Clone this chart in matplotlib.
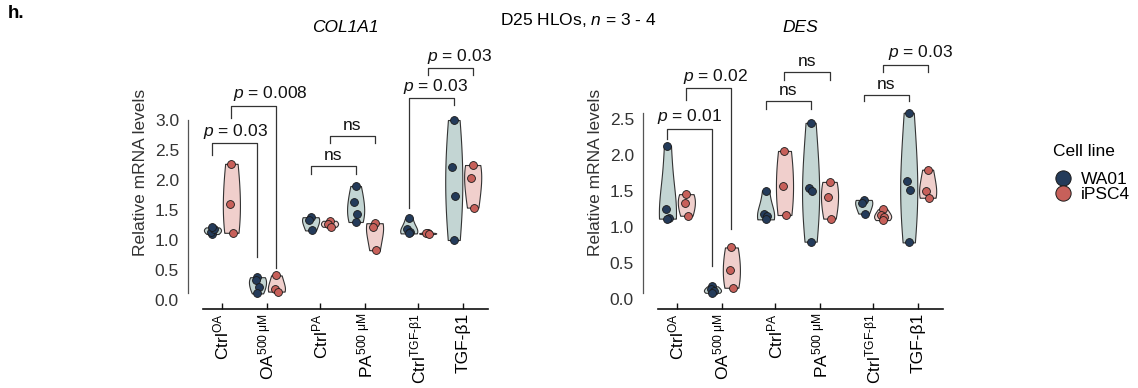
import numpy as np
import matplotlib
matplotlib.use("Agg")
import matplotlib.pyplot as plt
from matplotlib.lines import Line2D

plt.rcParams["font.family"] = ["Liberation Sans", "DejaVu Sans"]
plt.rcParams["mathtext.fontset"] = "custom"
plt.rcParams["mathtext.rm"] = "Liberation Sans"
plt.rcParams["mathtext.it"] = "Liberation Sans:italic"
plt.rcParams["mathtext.bf"] = "Liberation Sans:bold"

# groups along the x axis
groups = [r"Ctrl$^{\text{OA}}$", r"OA$^{\text{500 μM}}$", r"Ctrl$^{\text{PA}}$",
          r"PA$^{\text{500 μM}}$", r"Ctrl$^{\text{TGF-β1}}$", "TGF-β1"]
cell_lines = ["WA01", "iPSC4"]

# relative mRNA levels, one list per group
col1a1_wa01 = [[1.10, 1.14, 1.18, 1.21], [0.38, 0.34, 0.22, 0.11], [1.38, 1.33, 1.16],
               [1.90, 1.63, 1.43, 1.30], [1.36, 1.18, 1.13, 1.11], [3.00, 2.22, 1.74, 1.00]]
col1a1_ipsc4 = [[2.27, 1.60, 1.12], [0.41, 0.18, 0.14], [1.32, 1.27, 1.22],
                [1.28, 1.21, 0.83], [1.12, 1.11, 1.10], [2.25, 2.03, 1.54]]
des_wa01 = [[2.13, 1.26, 1.13, 1.12], [0.18, 0.14, 0.11, 0.09], [1.51, 1.18, 1.15, 1.11],
            [2.45, 1.55, 1.51, 0.80], [1.38, 1.34, 1.19], [2.59, 1.64, 1.52, 0.79]]
des_ipsc4 = [[1.46, 1.34, 1.16], [0.72, 0.41, 0.16], [2.06, 1.58, 1.17],
             [1.63, 1.42, 1.12], [1.25, 1.17, 1.14, 1.10], [1.80, 1.50, 1.41]]

# comparisons: (cell line, group a, group b, bracket height, tip a, tip b, label, label shift)
col1a1_stats = [
    (0, 0, 1, 2.61, 2.42, 0.71, "$p$ = 0.03", 0.0),
    (1, 0, 1, 3.23, 3.03, 0.53, "$p$ = 0.008", 0.37),
    (0, 2, 3, 2.23, 2.10, 2.10, "ns", 0.0),
    (1, 2, 3, 2.73, 2.61, 2.61, "ns", 0.0),
    (0, 4, 5, 3.36, 1.53, 3.25, "$p$ = 0.03", 0.09),
    (1, 4, 5, 3.86, 3.75, 3.75, "$p$ = 0.03", 0.2),
]
des_stats = [
    (0, 0, 1, 2.37, 2.22, 0.46, "$p$ = 0.01", 0.0),
    (1, 0, 1, 2.93, 2.77, 0.97, "$p$ = 0.02", 0.15),
    (0, 2, 3, 2.76, 2.64, 2.64, "ns", 0.0),
    (1, 2, 3, 3.16, 3.05, 3.05, "ns", 0.0),
    (0, 4, 5, 2.84, 2.75, 2.75, "ns", 0.0),
    (1, 4, 5, 3.26, 3.16, 3.16, "$p$ = 0.03", 0.35),
]

pos = np.array([0, 1, 2.18, 3.18, 4.36, 5.36])
dodge = [-0.21, 0.21]
fills = ["#c3d5d3", "#f0cfcc"]
dots = ["#243b5a", "#c7605a"]
jit = [0.0, -0.03, 0.03, 0.0]
line_col = "#333333"
fs = 12.5


def panel(ax, wa, ip, stats, title, ylim, yticks):
    for k, data in enumerate([wa, ip]):
        vp = ax.violinplot(data, positions=pos + dodge[k], widths=0.38,
                           showextrema=False, bw_method=0.9)
        for body in vp["bodies"]:
            body.set_facecolor(fills[k])
            body.set_edgecolor(line_col)
            body.set_linewidth(0.8)
            body.set_alpha(1)
            body.set_zorder(2)
        for g, vals in enumerate(data):
            xs = [pos[g] + dodge[k] + jit[i % 4] for i in range(len(vals))]
            ax.scatter(xs, vals, s=32, color=dots[k], edgecolor="#1a1a1a",
                       linewidth=0.6, zorder=3)
    for k, a, b, top, ta, tb, lab, dx in stats:
        x1, x2 = pos[a] + dodge[k], pos[b] + dodge[k]
        ax.plot([x1, x1, x2, x2], [ta, top, top, tb], color=line_col, lw=0.9,
                clip_on=False, zorder=1)
        ax.annotate(lab, ((x1 + x2) / 2 + dx, top), xytext=(0, 2),
                    textcoords="offset points", ha="center", va="bottom",
                    fontsize=fs, color="#111111")
    allv = np.concatenate([np.concatenate(wa), np.concatenate(ip)])
    ax.set_xlim(-0.42, 5.91)
    ax.set_ylim(*ylim)
    ax.set_yticks(yticks)
    ax.set_yticklabels([f"{t:.1f}" for t in yticks])
    ax.set_xticks(pos)
    ax.set_xticklabels(groups, rotation=90, fontsize=fs)
    ax.spines[["top", "right"]].set_visible(False)
    ax.spines["left"].set_position(("outward", 10.8))
    ax.spines["left"].set_bounds(allv.min(), allv.max())
    ax.spines["left"].set_color("#555555")
    ax.spines["left"].set_linewidth(0.9)
    ax.spines["bottom"].set_color("#111111")
    ax.spines["bottom"].set_linewidth(1.2)
    ax.tick_params(axis="y", length=0, pad=6.5, labelsize=fs, labelcolor="#333333")
    ax.tick_params(axis="x", direction="in", length=4.5, width=1, pad=3,
                   color="#111111")
    ax.set_ylabel("Relative mRNA levels", fontsize=fs, color="#333333", labelpad=5)
    ax.set_title(title, style="italic", fontsize=fs, pad=0)
    ax.patch.set_alpha(0)


fig = plt.figure(figsize=(11.38, 3.88), dpi=100)
ax1 = fig.add_axes([0.1784, 0.2036, 0.2504, 0.7062])
ax2 = fig.add_axes([0.5782, 0.2036, 0.2504, 0.7062])

panel(ax1, col1a1_wa01, col1a1_ipsc4, col1a1_stats, "COL1A1", (-0.15, 4.417),
      [0, 0.5, 1, 1.5, 2, 2.5, 3])
panel(ax2, des_wa01, des_ipsc4, des_stats, "DES", (-0.135, 3.67),
      [0, 0.5, 1, 1.5, 2, 2.5])

fig.text(0.508, 1 - 20 / 388, r"D25 HLOs, $n$ = 3 - 4", ha="center", va="center",
         fontsize=fs)
fig.text(8 / 1138, 1 - 14 / 388, "h.", weight="bold", fontsize=13.5, va="center")

# legend
fig.text(1053 / 1138, 1 - 152 / 388, "Cell line", ha="left", va="center", fontsize=fs)
handles = [Line2D([], [], marker="o", ls="", markersize=11, markerfacecolor=c,
                  markeredgecolor="#1a1a1a", markeredgewidth=0.7) for c in dots]
fig.legend(handles, cell_lines, loc="upper left",
           bbox_to_anchor=(1054 / 1138, 1 - 172 / 388), frameon=False, fontsize=fs,
           handletextpad=0.55, labelspacing=0.0, borderpad=0, borderaxespad=0,
           handlelength=1.0)

fig.savefig("out.png", dpi=100)
